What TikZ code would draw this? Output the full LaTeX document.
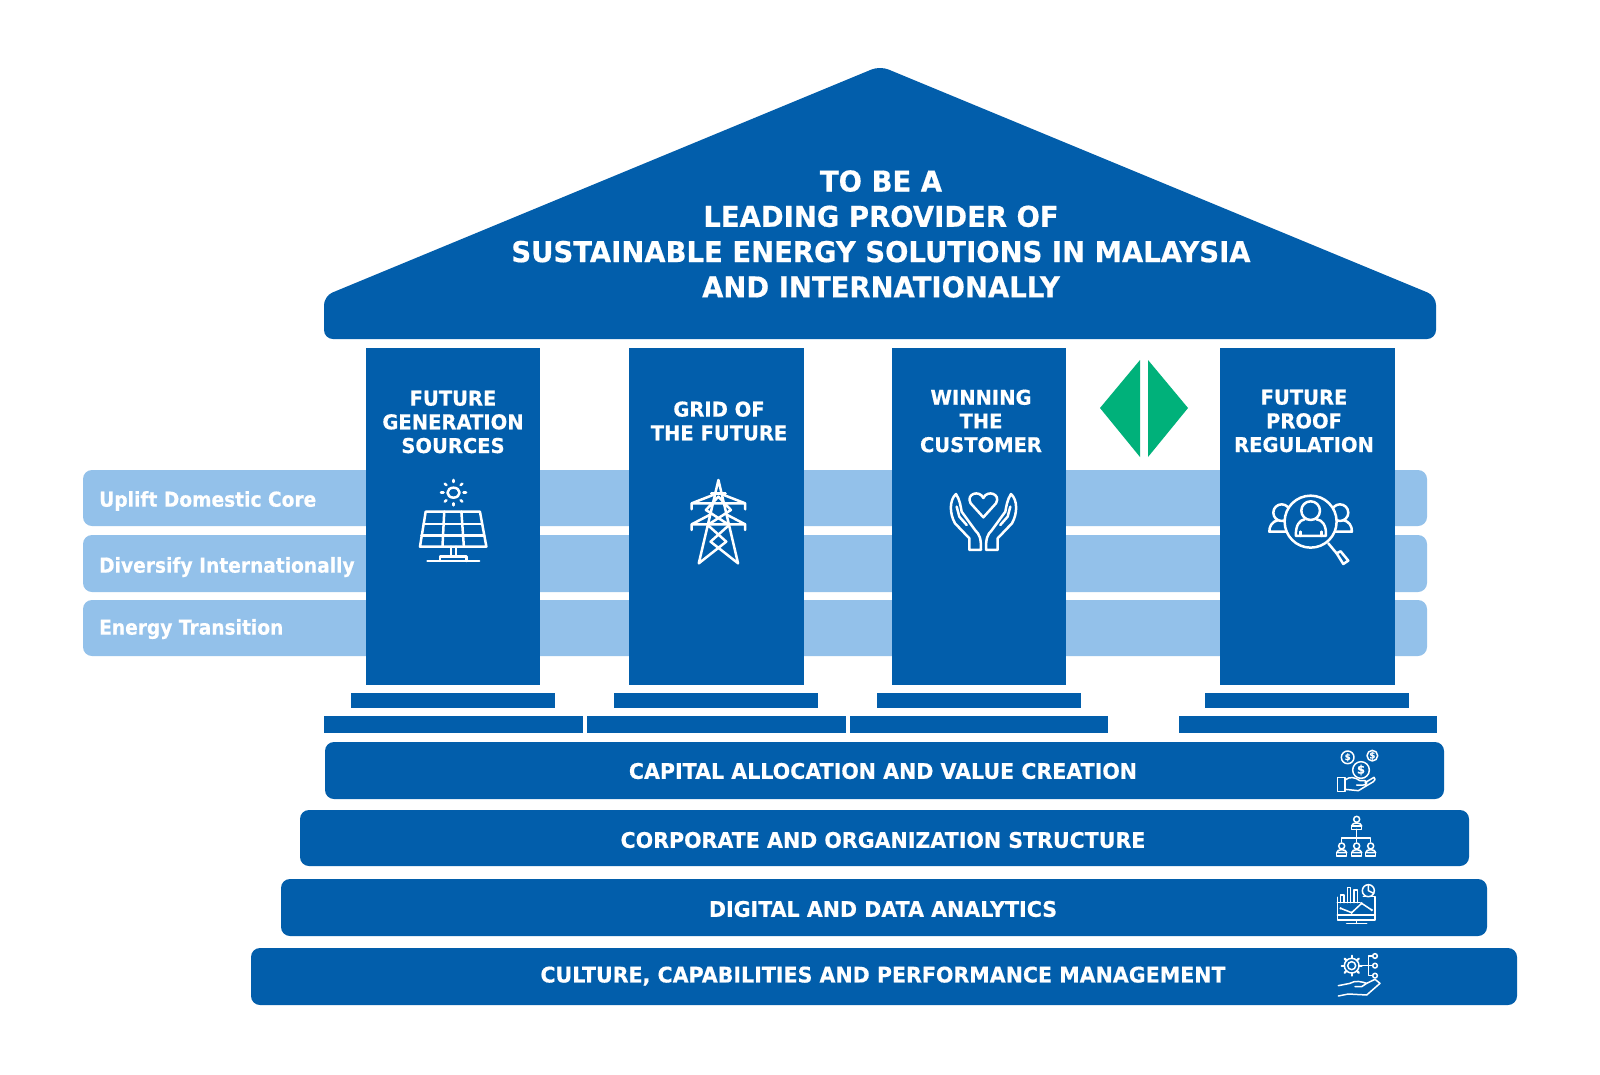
\documentclass[tikz,border=0pt]{standalone}
\usepackage{fontspec}
\setmainfont[BoldFont={DejaVu Sans Bold},BoldFeatures={FakeStretch=0.957,FakeBold=0.5}]{DejaVu Sans}
\newfontfamily\bandfont[BoldFont={DejaVu Sans Bold},BoldFeatures={FakeStretch=0.908,FakeBold=0.5}]{DejaVu Sans}
\definecolor{mainblue}{HTML}{025EAB}
\definecolor{lightband}{HTML}{93C1EA}
\definecolor{markgreen}{HTML}{00B17A}
\tikzset{
  bluefill/.style={fill=mainblue,draw=none},
  bandbox/.style={fill=lightband,draw=none,rounded corners=9pt},
  barbox/.style={fill=mainblue,draw=none,rounded corners=9pt},
  roofText/.style={text=white,align=center,font=\bfseries\fontsize{28.7}{35.3}\selectfont,inner sep=0},
  pillarText/.style={text=white,align=center,font=\bfseries\fontsize{20.4}{23.7}\selectfont,inner sep=0},
  barText/.style={text=white,align=center,font=\bfseries\fontsize{21.5}{25}\selectfont,inner sep=0},
  bandText/.style={text=white,anchor=west,font=\bandfont\bfseries\fontsize{20.5}{24}\selectfont,inner sep=0},
  iconA/.style={shift={(340,340)},x=0.357pt,y=-0.3333pt},
  iconB/.style={shift={(900,340)},x=0.3333pt,y=-0.3333pt},
  iconC/.style={shift={(1300,740)},x=0.3333pt,y=-0.3333pt},
  iconD/.style={shift={(1300,870)},x=0.3333pt,y=-0.3333pt},
  bigIcon/.style={draw=white,line width=2.5pt,line join=round,line cap=round},
  smallIcon/.style={draw=white,line width=1.5pt,line join=round,line cap=round},
  coinText/.style={text=white,inner sep=0,font=\bfseries\fontsize{9}{9}\selectfont},
}
\begin{document}
\begin{tikzpicture}[x=1pt,y=-1pt]
\useasboundingbox (0,0) rectangle (1600,1074);
\fill[white] (0,0) rectangle (1600,1074);
% roof
\fill[mainblue,rounded corners=9pt] (880,66) -- (1436,296) -- (1436,339) -- (324,339) -- (324,296) -- cycle;
\node[roofText] (roof) at (881,234) {TO BE A\\LEADING PROVIDER OF\\SUSTAINABLE ENERGY SOLUTIONS IN MALAYSIA\\AND INTERNATIONALLY};
% bands
\fill[bandbox] (83,470) rectangle (1427,526);
\fill[bandbox] (83,535) rectangle (1427,592);
\fill[bandbox] (83,600) rectangle (1427,656);
\node[bandText] (band1) at (99,501) {Uplift Domestic Core};
\node[bandText] (band2) at (99,567) {Diversify Internationally};
\node[bandText] (band3) at (99,629) {Energy Transition};
% pillars
\fill[bluefill] (366,348) rectangle (540,685);
\fill[bluefill] (629,348) rectangle (804,685);
\fill[bluefill] (892,348) rectangle (1066,685);
\fill[bluefill] (1220,348) rectangle (1395,685);
% plinths
\fill[bluefill] (351,693) rectangle (555,708);
\fill[bluefill] (614,693) rectangle (818,708);
\fill[bluefill] (877,693) rectangle (1081,708);
\fill[bluefill] (1205,693) rectangle (1409,708);
\fill[bluefill] (324,716) rectangle (583,733);
\fill[bluefill] (587,716) rectangle (846,733);
\fill[bluefill] (850,716) rectangle (1108,733);
\fill[bluefill] (1179,716) rectangle (1437,733);
% pillar text
\node[pillarText] (p1) at (453,422) {FUTURE\\GENERATION\\SOURCES};
\node[pillarText] (p2) at (719,421) {GRID OF\\THE FUTURE};
\node[pillarText] (p3) at (981,421) {WINNING\\THE\\CUSTOMER};
\node[pillarText] (p4) at (1304,421) {FUTURE\\PROOF\\REGULATION};
% green mark
\fill[markgreen] (1140,360) -- (1100,408) -- (1140,457) -- cycle;
\fill[markgreen] (1148,360) -- (1188,408) -- (1148,457) -- cycle;
% bars
\fill[barbox] (325,742) rectangle (1444,799);
\fill[barbox] (300,810) rectangle (1469,866);
\fill[barbox] (281,879) rectangle (1487,936);
\fill[barbox] (251,948) rectangle (1517,1005);
\node[barText] (b1) at (883,771) {CAPITAL ALLOCATION AND VALUE CREATION};
\node[barText] (b2) at (883,840) {CORPORATE AND ORGANIZATION STRUCTURE};
\node[barText] (b3) at (883,909) {DIGITAL AND DATA ANALYTICS};
\node[barText] (b4) at (883,976) {CULTURE, CAPABILITIES AND PERFORMANCE MANAGEMENT};
% solar icon
\begin{scope}[iconA]
\draw[bigIcon] (318,458) circle[x radius=17,y radius=15];
\foreach \a in {0,45,...,315} \draw[bigIcon] ({318+28*cos(\a)},{458+32*sin(\a)}) -- ({318+35*cos(\a)},{458+38*sin(\a)});
\draw[bigIcon] (240,515) -- (392,515) -- (410,620) -- (224,620) -- cycle;
\draw[bigIcon] (234,552) -- (398,552) (228,587) -- (404,587);
\draw[bigIcon] (292,515) -- (287,620) (340,515) -- (347,620);
\draw[bigIcon] (311,620) -- (311,650) (325,620) -- (325,650);
\draw[bigIcon] (280,663) -- (280,650) -- (355,650) -- (355,663) (245,663) -- (390,663);
\end{scope}
% pylon icon
\begin{scope}[iconA]
\draw[bigIcon] (1060,420) -- (1005,670) -- (1082,605) -- (1030,555) -- (1095,510) -- (1060,470) -- (1025,510) -- (1090,555) -- (1038,605) -- (1115,670) -- cycle;
\draw[bigIcon] (1040,460) -- (1080,460);
\draw[bigIcon] (985,508) -- (985,490) -- (1045,465) (1075,465) -- (1135,490) -- (1135,508) (985,490) -- (1135,490);
\draw[bigIcon] (985,570) -- (985,553) -- (1035,525) (1085,525) -- (1135,553) -- (1135,570) (985,553) -- (1135,553);
\end{scope}
% hands icon
\begin{scope}[iconB]
\draw[bigIcon] (250,532) -- (212,490) .. controls (196,462) and (238,448) .. (250,474) .. controls (262,448) and (304,462) .. (288,490) -- cycle;
\draw[bigIcon] (243,630) -- (208,630) -- (208,595) -- (165,550) .. controls (148,520) and (148,480) .. (168,462) .. controls (180,480) and (182,500) .. (185,515) -- (225,570) .. controls (240,585) and (243,595) .. (243,630);
\draw[bigIcon] (258,630) -- (293,630) -- (293,595) -- (336,550) .. controls (353,520) and (353,480) .. (333,462) .. controls (321,480) and (319,500) .. (316,515) -- (276,570) .. controls (261,585) and (258,595) .. (258,630);
\draw[bigIcon] (170,500) -- (178,530) -- (200,555) (331,500) -- (323,530) -- (301,555);
\end{scope}
% regulation icon
\begin{scope}[iconB]
\draw[bigIcon] (1145,518) circle[radius=25] (1320,518) circle[radius=25];
\draw[bigIcon] (1160,575) -- (1108,575) .. controls (1108,558) and (1116,545) .. (1135,540);
\draw[bigIcon] (1305,575) -- (1356,575) .. controls (1356,558) and (1348,545) .. (1330,540);
\draw[bigIcon,fill=mainblue] (1232,545) circle[radius=78];
\draw[bigIcon] (1232,512) circle[radius=28];
\draw[bigIcon] (1214,538) .. controls (1200,540) and (1186,555) .. (1188,588) -- (1278,588) .. controls (1280,555) and (1266,540) .. (1250,538);
\draw[bigIcon] (1202,575) -- (1202,588) (1264,575) -- (1264,588);
\draw[bigIcon] (1285,610) -- (1310,640);
\draw[bigIcon] (1310,640) -- (1330,672) -- (1345,662) -- (1322,634) -- cycle;
\end{scope}
% money icon
\begin{scope}[iconC]
\draw[smallIcon] (143,52) circle[radius=19];
\draw[smallIcon] (217,47) circle[radius=16];
\draw[smallIcon] (183,90) circle[radius=25];
\node[coinText] (coin1) at (143,52) {\$};
\node[coinText] (coin2) at (217,47) {\$};
\node[coinText,font=\bfseries\fontsize{12}{12}\selectfont] (coin3) at (183,90) {\$};
\draw[smallIcon] (112,113) rectangle (135,155);
\draw[smallIcon] (135,120) .. controls (150,108) and (165,112) .. (180,122) -- (195,122) .. controls (205,125) and (200,135) .. (190,135) -- (170,135) (195,128) -- (222,112) .. controls (228,115) and (225,122) .. (220,125) -- (175,152) -- (135,148);
\end{scope}
% org icon
\begin{scope}[iconC]
\foreach \p/\q in {170/238,125/318,170/318,212/318} {
  \draw[smallIcon] (\p,\q) circle[radius=9];
  \draw[smallIcon] (\p-15,\q+20) .. controls (\p-15,\q+8) and (\p+15,\q+8) .. (\p+15,\q+20) -- cycle;
  \draw[smallIcon] (\p-15,\q+20) rectangle (\p+15,\q+30);
}
\draw[smallIcon] (170,268) -- (170,294) (125,306) -- (125,294) -- (212,294) -- (212,306) (170,294) -- (170,306);
\end{scope}
% analytics icon
\begin{scope}[iconD]
\draw[smallIcon] (112,82) -- (112,150) -- (225,150) -- (225,80) -- (190,80);
\draw[smallIcon] (112,135) -- (225,135);
\draw[smallIcon] (170,150) -- (170,160) (140,161) -- (200,161);
\draw[smallIcon] (122,98) -- (122,75) -- (132,75) -- (132,98) (142,98) -- (142,52) -- (152,52) -- (152,98) (162,98) -- (162,60) -- (172,60) -- (172,98) (112,98) -- (180,98);
\draw[smallIcon] (122,115) -- (155,128) -- (185,100) -- (215,120);
\fill[white] (122,115) circle[radius=4] (155,128) circle[radius=4] (185,100) circle[radius=4] (215,120) circle[radius=4];
\draw[smallIcon] (205,62) circle[radius=18];
\draw[smallIcon] (205,62) -- (205,44) (205,62) -- (221,70);
\end{scope}
% gear hand icon
\begin{scope}[iconD]
\draw[smallIcon] (155,287) circle[radius=12];
\draw[smallIcon] (155,287) circle[radius=22];
\foreach \a in {0,45,...,315} \draw[smallIcon,line width=2.2pt] ({155+22*cos(\a)},{287+22*sin(\a)}) -- ({155+30*cos(\a)},{287+30*sin(\a)});
\draw[smallIcon] (185,287) -- (218,287) (205,287) -- (205,258) -- (218,258) (205,287) -- (205,317) -- (218,317);
\draw[smallIcon] (225,258) circle[radius=7] (225,287) circle[radius=7] (225,317) circle[radius=7];
\draw[smallIcon] (115,347) -- (150,340) .. controls (165,330) and (185,335) .. (200,340) -- (185,350) -- (165,350) (200,340) -- (225,328) -- (240,340) -- (200,375) -- (145,372) -- (115,378);
\end{scope}
\end{tikzpicture}
\end{document}
